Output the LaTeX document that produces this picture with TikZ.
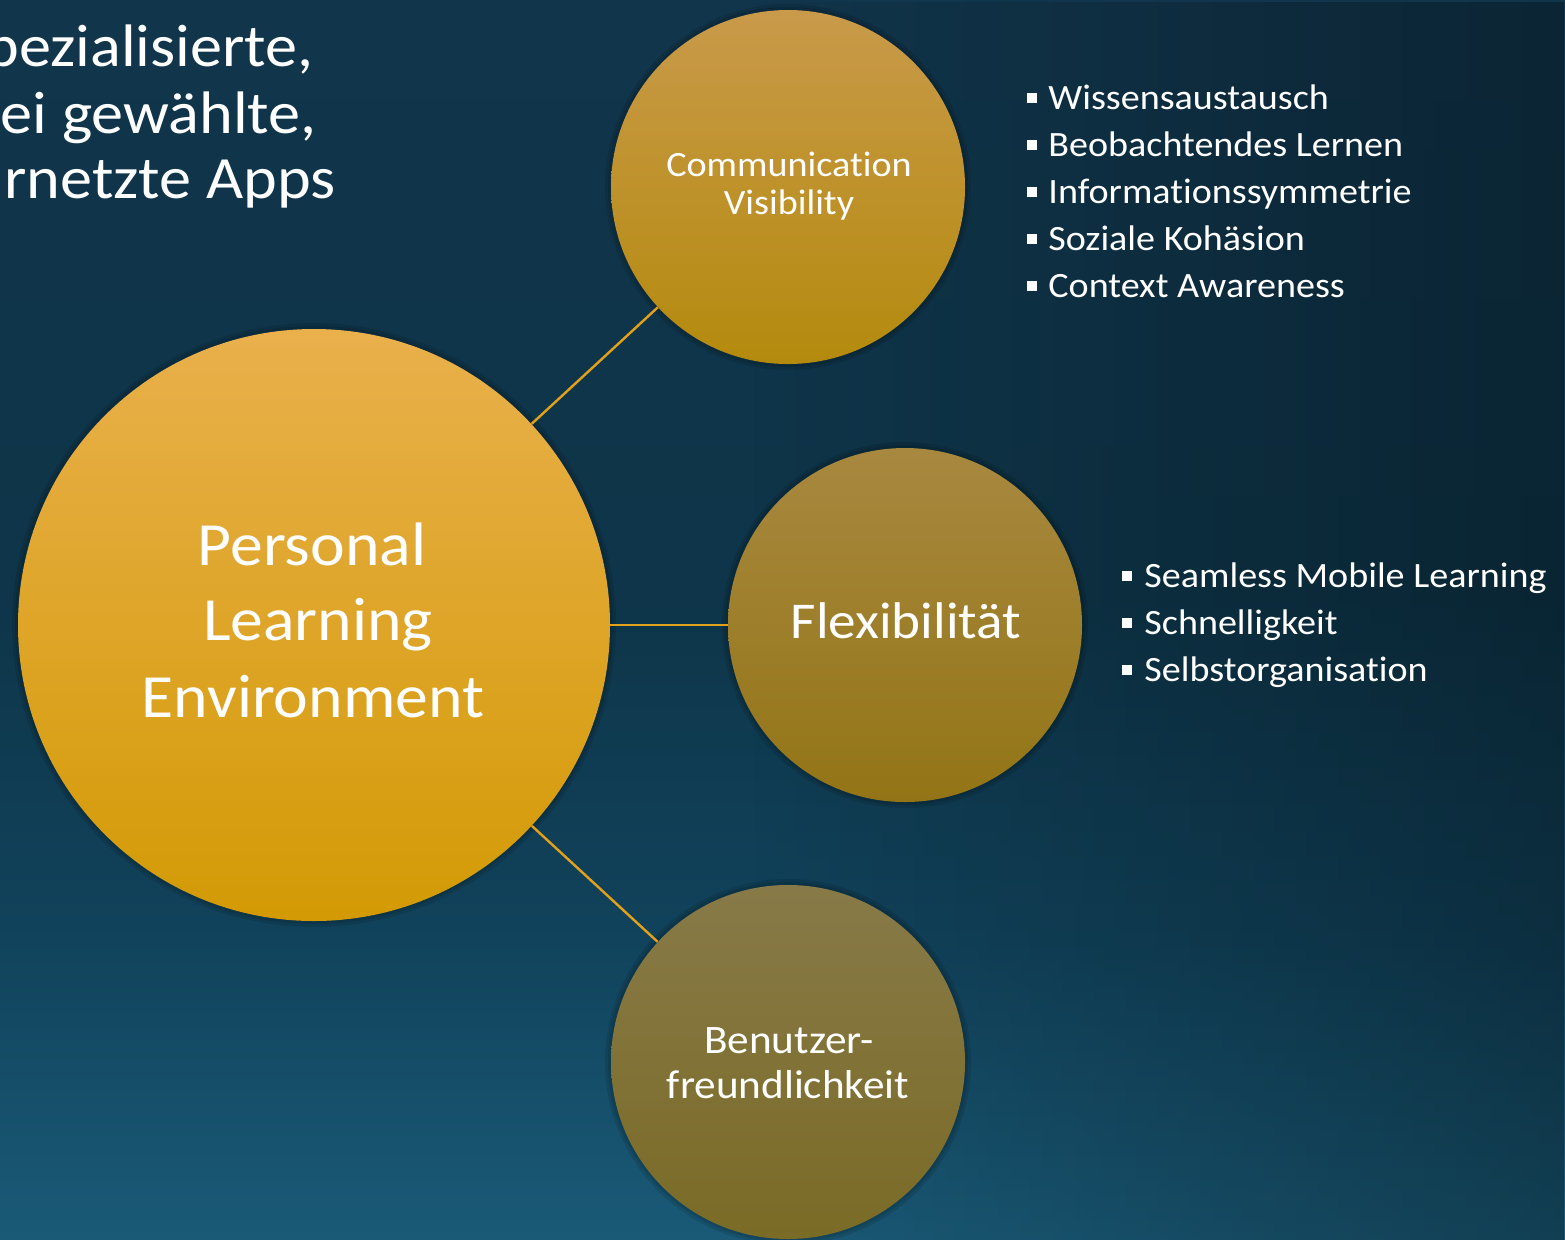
\documentclass[tikz,border=0pt]{standalone}
\usepackage{fontspec}
\setmainfont{Carlito}[FakeStretch=1.07, Ligatures=NoCommon]
\usetikzlibrary{fadings}
\definecolor{bgtop}{HTML}{11354B}
\definecolor{bgmid}{HTML}{0E3549}
\definecolor{bgmidb}{HTML}{11435C}
\definecolor{bgbot}{HTML}{1A5A77}
\definecolor{linkc}{HTML}{E3A11A}
\definecolor{pleT}{HTML}{E9B04C}
\definecolor{pleM}{HTML}{E6A51B}
\definecolor{pleB}{HTML}{D39A05}
\definecolor{comT}{HTML}{C99A4A}
\definecolor{comB}{HTML}{B48A0D}
\definecolor{flxT}{HTML}{A8883F}
\definecolor{flxB}{HTML}{937516}
\definecolor{benT}{HTML}{887A48}
\definecolor{benB}{HTML}{7A6B26}
\pgfdeclareverticalshading{bgsh}{100bp}{color(0bp)=(bgbot); color(25bp)=(bgbot); color(37bp)=(bgmidb); color(51bp)=(bgmid); color(75bp)=(bgtop); color(100bp)=(bgtop)}
\tikzfading[name=fadeR, left color=transparent!100, right color=transparent!0]
\begin{document}
\begin{tikzpicture}[x=0.5pt,y=-0.5pt,
  ring/.style={circle, inner sep=0pt},
  lbl/.style={anchor=base, text=white, inner sep=0pt},
  link/.style={draw=linkc, line width=1.2pt},
  halo/.style={fill=black, opacity=0.10},
  head/.style={anchor=base east, text=white, inner sep=0pt, font=\fontsize{30}{33}\selectfont},
  item/.style={anchor=base west, text=white, inner sep=0pt, font=\fontsize{17.8}{20}\selectfont}]
\useasboundingbox (0,0) rectangle (1565,1239);
\clip (0,0) rectangle (1565,1239);
\shade[shading=bgsh] (0,0) rectangle (1565,1239);
\fill[black, opacity=0.3, path fading=fadeR] (750,0) rectangle (1565,1239);
% soft shadows
\foreach \cx/\cy/\r in {314/625/148, 788/187/88.5, 905/625/88.5, 788/1062/88.5}{
  \fill[halo] (\cx,\cy) circle[radius=\r pt+3pt];
  \fill[halo] (\cx,\cy) circle[radius=\r pt+1.5pt];
}
% title text (cut off at the left edge)
\node[head] (t1) at (314,66) {pezialisierte,};
\node[head] (t2) at (317,133) {ei gewählte,};
\node[head] (t3) at (336,198) {rnetzte Apps};
% circles
\node[ring, minimum size=296pt, top color=pleT, middle color=pleM, bottom color=pleB] (ple) at (314,625) {};
\node[ring, minimum size=177pt, top color=comT, bottom color=comB] (com) at (788,187) {};
\node[ring, minimum size=177pt, top color=flxT, bottom color=flxB] (flx) at (905,625) {};
\node[ring, minimum size=177pt, top color=benT, bottom color=benB] (ben) at (788,1062) {};
% circle labels
\node[lbl, font=\fontsize{30.7}{30}\selectfont] (ple1) at (312,565) {Personal};
\node[lbl, font=\fontsize{30.7}{30}\selectfont] (ple2) at (318,640) {Learning};
\node[lbl, font=\fontsize{30.7}{30}\selectfont] (ple3) at (313,717) {Environment};
\node[lbl, font=\fontsize{17.8}{20}\selectfont] (com1) at (789,176) {Communication};
\node[lbl, font=\fontsize{17.8}{20}\selectfont] (com2) at (789,214) {Visibility};
\node[lbl, font=\fontsize{25.8}{28}\selectfont] (flx1) at (906,638) {Flexibilität};
\node[lbl, font=\fontsize{20.2}{22}\selectfont] (ben1) at (789,1053) {Benutzer-};
\node[lbl, font=\fontsize{20.2}{22}\selectfont] (ben2) at (788,1098) {freundlichkeit};
% connectors
\draw[link] (ple) -- (com);
\draw[link] (ple) -- (flx);
\draw[link] (ple) -- (ben);
% bullet lists
\node[item] (a1) at (1027,109) {\rule[3pt]{5pt}{5pt}\hspace{5.5pt}Wissensaustausch};
\node[item] (a2) at (1027,156) {\rule[3pt]{5pt}{5pt}\hspace{5.5pt}Beobachtendes Lernen};
\node[item] (a3) at (1027,203) {\rule[3pt]{5pt}{5pt}\hspace{5.5pt}Informationssymmetrie};
\node[item] (a4) at (1027,250) {\rule[3pt]{5pt}{5pt}\hspace{5.5pt}Soziale Kohäsion};
\node[item] (a5) at (1027,297) {\rule[3pt]{5pt}{5pt}\hspace{5.5pt}Context Awareness};
\node[item] (b1) at (1122,587) {\rule[3pt]{5pt}{5pt}\hspace{6pt}Seamless Mobile Learning};
\node[item] (b2) at (1122,634) {\rule[3pt]{5pt}{5pt}\hspace{6pt}Schnelligkeit};
\node[item] (b3) at (1122,681) {\rule[3pt]{5pt}{5pt}\hspace{6pt}Selbstorganisation};
\end{tikzpicture}
\end{document}
